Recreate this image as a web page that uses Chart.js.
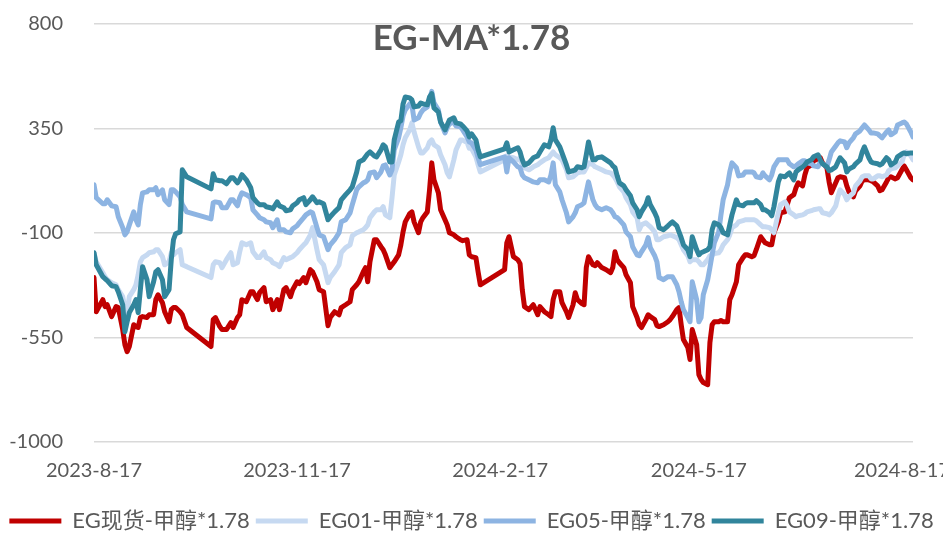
<!DOCTYPE html>
<html lang="zh">
<head>
<meta charset="UTF-8">
<title>EG-MA*1.78</title>
<script src="https://cdn.jsdelivr.net/npm/chart.js"></script>
<style>
  html, body { margin: 0; padding: 0; background: #ffffff; }
  .chart-box { width: 943px; height: 533px; }
</style>
</head>
<body>
<div class="chart-box"><canvas id="spreadChart"></canvas></div>
<script>
const chartTitle = 'EG-MA*1.78';

const dates = [
  '2023-08-17','2023-08-18','2023-08-21','2023-08-22','2023-08-23','2023-08-25','2023-08-27','2023-08-28','2023-08-30','2023-08-31',
  '2023-09-01','2023-09-02','2023-09-04','2023-09-05','2023-09-06','2023-09-07','2023-09-08','2023-09-10','2023-09-11','2023-09-13',
  '2023-09-14','2023-09-15','2023-09-17','2023-09-18','2023-09-20','2023-09-21','2023-09-22','2023-09-23','2023-09-25','2023-09-26',
  '2023-09-28','2023-10-09','2023-10-10','2023-10-11','2023-10-13','2023-10-14','2023-10-16','2023-10-18','2023-10-19','2023-10-21',
  '2023-10-22','2023-10-23','2023-10-25','2023-10-27','2023-10-28','2023-10-30','2023-10-31','2023-11-02','2023-11-03','2023-11-05',
  '2023-11-06','2023-11-08','2023-11-09','2023-11-11','2023-11-12','2023-11-14','2023-11-15','2023-11-17','2023-11-18','2023-11-20',
  '2023-11-21','2023-11-23','2023-11-24','2023-11-26','2023-11-27','2023-11-29','2023-12-01','2023-12-02','2023-12-04','2023-12-06',
  '2023-12-07','2023-12-09','2023-12-11','2023-12-12','2023-12-14','2023-12-15','2023-12-17','2023-12-18','2023-12-19','2023-12-20',
  '2023-12-22','2023-12-23','2023-12-25','2023-12-26','2023-12-27','2023-12-29','2023-12-30','2023-12-31','2024-01-02','2024-01-03',
  '2024-01-04','2024-01-05','2024-01-07','2024-01-08','2024-01-09','2024-01-11','2024-01-12','2024-01-13','2024-01-15','2024-01-16',
  '2024-01-17','2024-01-18','2024-01-20','2024-01-21','2024-01-23','2024-01-24','2024-01-25','2024-01-27','2024-01-28','2024-01-30',
  '2024-01-31','2024-02-02','2024-02-03','2024-02-04','2024-02-06','2024-02-07','2024-02-08','2024-02-19','2024-02-20','2024-02-21',
  '2024-02-23','2024-02-25','2024-02-26','2024-02-27','2024-02-28','2024-03-01','2024-03-03','2024-03-05','2024-03-06','2024-03-08',
  '2024-03-10','2024-03-11','2024-03-12','2024-03-13','2024-03-15','2024-03-16','2024-03-18','2024-03-19','2024-03-21','2024-03-22',
  '2024-03-23','2024-03-25','2024-03-26','2024-03-27','2024-03-28','2024-03-30','2024-03-31','2024-04-01','2024-04-03','2024-04-05',
  '2024-04-07','2024-04-08','2024-04-09','2024-04-10','2024-04-11','2024-04-13','2024-04-14','2024-04-16','2024-04-17','2024-04-19',
  '2024-04-20','2024-04-21','2024-04-23','2024-04-24','2024-04-25','2024-04-27','2024-04-28','2024-04-29','2024-05-01','2024-05-03',
  '2024-05-04','2024-05-05','2024-05-07','2024-05-08','2024-05-09','2024-05-10','2024-05-12','2024-05-13','2024-05-14','2024-05-16',
  '2024-05-17','2024-05-18','2024-05-19','2024-05-21','2024-05-22','2024-05-23','2024-05-24','2024-05-26','2024-05-27','2024-05-28',
  '2024-05-30','2024-05-31','2024-06-01','2024-06-03','2024-06-04','2024-06-06','2024-06-07','2024-06-08','2024-06-10','2024-06-11',
  '2024-06-12','2024-06-14','2024-06-15','2024-06-16','2024-06-18','2024-06-19','2024-06-20','2024-06-22','2024-06-23','2024-06-25',
  '2024-06-26','2024-06-27','2024-06-29','2024-06-30','2024-07-01','2024-07-03','2024-07-04','2024-07-05','2024-07-07','2024-07-08',
  '2024-07-10','2024-07-11','2024-07-12','2024-07-14','2024-07-15','2024-07-16','2024-07-18','2024-07-19','2024-07-20','2024-07-22',
  '2024-07-23','2024-07-24','2024-07-26','2024-07-27','2024-07-29','2024-07-30','2024-07-31','2024-08-02','2024-08-03','2024-08-04',
  '2024-08-06','2024-08-07','2024-08-08','2024-08-10','2024-08-11','2024-08-12','2024-08-14','2024-08-15','2024-08-17','2024-08-18',
  '2024-08-19','2024-08-21','2024-08-22'
];

// EG现货-甲醇*1.78
const spot = [
  -292,-439,-387,-417,-409,-460,-417,-421,-516,-581,
  -611,-589,-495,-503,-507,-464,-460,-464,-452,-452,
  -387,-366,-400,-439,-482,-430,-421,-421,-439,-452,
  -507,-589,-473,-464,-503,-516,-516,-486,-507,-464,
  -452,-387,-396,-353,-353,-387,-357,-335,-396,-387,
  -430,-387,-430,-344,-335,-374,-344,-310,-318,-292,
  -314,-258,-267,-310,-344,-353,-499,-464,-439,-452,
  -421,-409,-396,-344,-323,-310,-267,-249,-310,-224,
  -129,-129,-159,-172,-194,-249,-237,-224,-194,-151,
  -95,-52,-17,-9,-52,-99,-52,-34,-9,86,
  202,129,73,0,-43,-65,-99,-108,-116,-129,
  -133,-129,-194,-202,-206,-267,-323,-258,-142,-116,
  -202,-215,-232,-344,-417,-430,-409,-452,-417,-439,
  -452,-460,-387,-353,-353,-400,-439,-464,-409,-357,
  -387,-404,-409,-249,-202,-237,-241,-228,-249,-258,
  -271,-249,-181,-215,-228,-249,-280,-314,-417,-464,
  -495,-507,-473,-452,-460,-473,-499,-503,-495,-482,
  -473,-460,-430,-421,-495,-559,-593,-645,-516,-581,
  -710,-731,-744,-753,-572,-495,-482,-482,-477,-482,
  -482,-387,-366,-310,-237,-206,-194,-194,-202,-198,
  -172,-116,-129,-142,-151,-151,-99,-52,-13,-9,
  22,52,65,95,116,103,150,181,193,211,
  219,224,202,181,120,73,116,138,142,138,
  103,77,56,82,103,125,129,129,125,120,
  103,82,86,120,138,142,133,138,172,189,
  172,138,129
];

// EG01-甲醇*1.78
const eg01 = [
  -185,-224,-271,-288,-301,-314,-323,-344,-374,-421,
  -443,-374,-344,-323,-280,-224,-206,-194,-185,-181,
  -172,-172,-202,-237,-224,-185,-194,-185,-172,-237,
  -245,-292,-237,-224,-228,-249,-215,-185,-237,-228,
  -181,-142,-151,-142,-181,-206,-206,-181,-206,-215,
  -228,-237,-245,-206,-215,-206,-202,-185,-172,-151,
  -142,-108,-77,-172,-215,-237,-314,-292,-267,-237,
  -185,-163,-151,-112,-99,-95,-86,-77,-65,-34,
  -9,0,0,13,-22,-34,52,150,206,237,
  280,310,344,374,335,271,245,245,267,292,
  301,280,267,237,194,159,142,215,258,300,
  300,290,265,265,228,194,163,215,232,228,
  224,215,224,194,181,172,185,194,202,215,
  224,237,249,237,224,215,172,138,142,150,
  159,163,163,181,202,194,185,181,172,163,
  159,150,138,120,99,77,52,22,-9,-34,
  -86,-65,-56,-65,-73,-95,-129,-129,-116,-112,
  -108,-112,-120,-129,-151,-172,-198,-224,-215,-215,
  -224,-237,-237,-215,-198,-194,-189,-185,-172,-151,
  -129,-108,-77,-65,-52,-47,-43,-43,-43,-43,
  -47,-65,-73,-73,-77,-86,-99,-13,22,34,
  17,-9,-22,-30,-26,-22,-17,-9,-4,0,
  4,4,-13,-17,-22,-13,17,56,86,65,
  43,56,73,103,125,142,146,146,133,133,
  146,146,142,150,168,176,181,189,206,237,
  249,232,215
];

// EG05-甲醇*1.78
const eg05 = [
  108,52,26,26,43,17,13,-30,-77,-108,
  -95,-65,-9,-43,-65,22,73,77,86,86,
  95,65,86,43,22,86,86,77,56,22,
  -9,-39,30,34,30,9,9,43,43,17,
  52,73,65,52,0,-22,-34,-43,-52,-56,
  -77,-43,-86,-86,-95,-99,-82,-69,-56,-34,
  -22,-9,-13,-77,-108,-116,-172,-151,-129,-99,
  -52,-43,-13,22,86,99,116,120,129,159,
  163,138,163,189,193,150,172,258,310,353,
  404,430,456,452,387,396,417,430,443,473,
  510,460,430,378,331,353,370,378,361,357,
  344,314,292,288,258,224,194,228,163,224,
  206,185,181,150,138,129,120,116,129,129,
  120,150,202,108,77,43,-13,-52,-30,-13,
  13,22,30,77,120,43,22,9,0,9,
  0,-13,-30,-34,-43,-65,-95,-116,-159,-194,
  -198,-181,-151,-120,-163,-198,-224,-292,-301,-288,
  -288,-288,-323,-353,-396,-430,-464,-482,-310,-387,
  -482,-464,-366,-301,-249,-194,-142,-95,-22,43,
  108,163,202,181,146,150,163,163,163,159,
  142,138,159,146,129,150,185,215,215,215,
  215,198,185,189,198,211,211,202,198,189,
  185,206,198,185,215,249,275,288,297,292,
  267,288,310,327,340,353,365,344,331,331,
  327,318,310,335,344,323,335,365,374,378,
  370,335,314
];

// EG09-甲醇*1.78
const eg09 = [
  -185,-237,-288,-297,-305,-327,-331,-353,-409,-525,
  -482,-443,-409,-387,-443,-344,-245,-301,-374,-310,
  -267,-258,-301,-374,-344,-215,-129,-103,-95,172,
  142,90,155,129,125,125,112,138,138,116,
  129,151,129,95,52,30,22,22,13,9,
  4,34,17,9,-4,0,17,30,43,52,
  22,43,56,30,34,26,-43,-30,-9,9,
  43,65,86,99,163,206,215,228,241,249,
  232,228,258,280,271,206,206,301,378,383,
  456,486,482,473,443,447,460,456,452,486,
  500,439,421,378,344,365,387,396,374,370,
  361,340,314,327,301,258,228,262,288,249,
  258,267,249,215,193,202,224,232,249,280,
  271,301,353,301,271,245,193,163,168,172,
  185,181,185,237,292,215,215,224,228,215,
  202,189,181,146,116,103,86,60,30,0,
  -30,-9,22,52,22,-13,-34,-77,-86,-69,
  -60,-52,-69,-95,-120,-151,-172,-202,-116,-172,
  -194,-185,-181,-172,-159,-86,-56,-65,-77,-99,
  -108,-65,-22,43,22,17,26,30,30,30,
  39,22,0,0,-13,-26,13,120,146,142,
  151,159,129,163,172,185,193,206,215,228,
  237,215,198,185,168,172,185,206,224,202,
  163,176,185,198,215,249,271,224,206,202,
  198,193,198,224,215,193,206,228,241,245,
  241,245,245
];

const seriesNames = ['EG现货-甲醇*1.78', 'EG01-甲醇*1.78', 'EG05-甲醇*1.78', 'EG09-甲醇*1.78'];
const seriesColors = ['#C00000', '#C6D9F1', '#8DB4E2', '#31859C'];
const xTickLabels = ['2023-8-17', '2023-11-17', '2024-2-17', '2024-5-17', '2024-8-17'];
const yTicks = [-1000, -550, -100, 350, 800];

// days since the first date, so holidays keep their gaps like a date axis
function dayOf(s) {
  const [y, m, d] = s.split('-').map(Number);
  const [y0, m0, d0] = dates[0].split('-').map(Number);
  return Math.round((Date.UTC(y, m - 1, d) - Date.UTC(y0, m0 - 1, d0)) / 86400000);
}

const dayIndex = dates.map(dayOf);
const toPoints = values => values.map((v, i) => ({ x: dayIndex[i], y: v }));

const textColor = '#595959';
const fontFamily = "Lato, 'Noto Sans CJK SC', sans-serif";
Chart.defaults.font.family = fontFamily;
Chart.defaults.color = textColor;

// title sits inside the plot area, like the original
const innerTitle = {
  id: 'innerTitle',
  afterDraw(chart) {
    const ctx = chart.ctx;
    ctx.save();
    ctx.font = 'bold 35px ' + fontFamily;
    ctx.fillStyle = textColor;
    ctx.textAlign = 'center';
    ctx.textBaseline = 'alphabetic';
    ctx.fillText(chartTitle, chart.width / 2, 50);
    ctx.restore();
  }
};

const allSeries = [spot, eg01, eg05, eg09];

const ctx = document.getElementById('spreadChart').getContext('2d');
new Chart(ctx, {
  type: 'line',
  data: {
    datasets: allSeries.map((values, i) => ({
      label: seriesNames[i],
      data: toPoints(values),
      borderColor: seriesColors[i],
      backgroundColor: seriesColors[i],
      borderWidth: 5,
      pointRadius: 0,
      tension: 0,
      borderJoinStyle: 'round',
      borderCapStyle: 'round',
      order: allSeries.length - i
    }))
  },
  options: {
    responsive: true,
    maintainAspectRatio: false,
    animation: false,
    devicePixelRatio: 1,
    layout: { padding: { left: 0, right: 0, top: 24, bottom: -9 } },
    scales: {
      x: {
        type: 'linear',
        min: 0,
        max: dayIndex[dayIndex.length - 1],
        grid: { display: false, drawTicks: false },
        border: { display: false },
        afterBuildTicks: scale => {
          scale.ticks = xTickLabels.map(s => ({ value: dayOf(s) }));
        },
        afterFit: scale => {
          scale.paddingLeft = 0;
          scale.paddingRight = 30;
          scale.height = 62;
        },
        ticks: {
          autoSkip: false,
          maxRotation: 0,
          padding: 17,
          color: textColor,
          font: { size: 20 },
          callback: value => {
            const k = xTickLabels.findIndex(s => dayOf(s) === value);
            return k >= 0 ? xTickLabels[k] : '';
          }
        }
      },
      y: {
        min: yTicks[0],
        max: yTicks[yTicks.length - 1],
        grid: { color: '#D9D9D9', lineWidth: 1.5, drawTicks: false },
        border: { display: false },
        afterFit: scale => {
          scale.width = 94;
          scale.paddingTop = 0;
          scale.paddingBottom = 0;
        },
        ticks: {
          stepSize: yTicks[1] - yTicks[0],
          padding: 31,
          color: textColor,
          font: { size: 20 },
          callback: value => String(value)
        }
      }
    },
    plugins: {
      legend: {
        position: 'bottom',
        reverse: true,
        labels: {
          usePointStyle: true,
          pointStyle: 'line',
          pointStyleWidth: 52,
          padding: 6,
          color: textColor,
          font: { size: 22 }
        }
      },
      tooltip: { enabled: false }
    }
  },
  plugins: [innerTitle]
});
</script>
</body>
</html>
